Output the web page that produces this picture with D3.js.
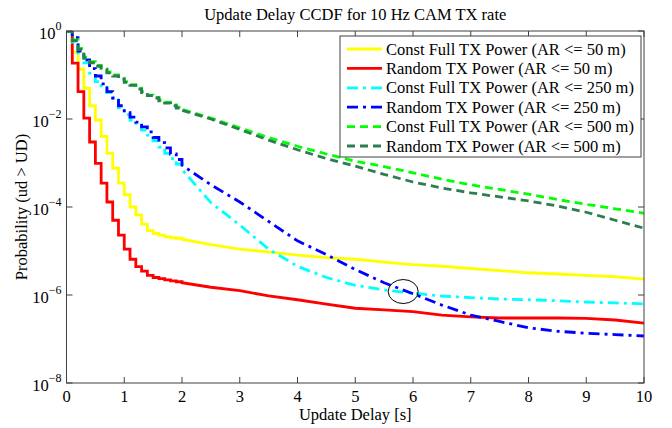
<!DOCTYPE html>
<html>
<head>
<meta charset="utf-8">
<script src="https://cdn.jsdelivr.net/npm/d3@7/dist/d3.min.js"></script>
<style>
  body { margin: 0; background: #fff; }
</style>
</head>
<body>
<div id="chart"></div>
<script>
// time grid (s): 0.1 s steps up to 2 s, then every 0.5 s
var times = [0, 0.1, 0.2, 0.3, 0.4, 0.5, 0.6, 0.7, 0.8, 0.9, 1.0, 1.1, 1.2, 1.3, 1.4, 1.5, 1.6, 1.7, 1.8, 1.9, 2.0,
             2.5, 3, 3.5, 4, 4.5, 5, 5.5, 6, 6.5, 7, 7.5, 8, 8.5, 9, 9.5, 10];

var constAR50 = [1, 0.33, 0.135, 5.0e-2, 2.0e-2, 9.5e-3, 4.0e-3, 1.66e-3, 7.6e-4, 3.5e-4, 1.9e-4, 1.0e-4, 6.6e-5, 4.1e-5, 2.9e-5, 2.5e-5, 2.3e-5, 2.1e-5, 2.0e-5, 1.95e-5, 1.85e-5,
                 1.4e-5, 1.1e-5, 9.5e-6, 8.1e-6, 7.1e-6, 6.5e-6, 5.6e-6, 4.9e-6, 4.5e-6, 4.0e-6, 3.6e-6, 3.2e-6, 3.0e-6, 2.8e-6, 2.6e-6, 2.3e-6];
var randAR50 = [1, 0.186, 4.2e-2, 1.05e-2, 3.0e-3, 9.8e-4, 3.5e-4, 1.3e-4, 5.0e-5, 2.3e-5, 1.1e-5, 6.5e-6, 4.4e-6, 3.5e-6, 2.8e-6, 2.5e-6, 2.35e-6, 2.2e-6, 2.1e-6, 2.0e-6, 1.9e-6,
                1.5e-6, 1.26e-6, 9.5e-7, 7.8e-7, 6.2e-7, 5.0e-7, 4.6e-7, 4.2e-7, 3.5e-7, 3.2e-7, 3.0e-7, 3.0e-7, 3.0e-7, 2.95e-7, 2.7e-7, 2.3e-7];
var constAR250 = [1, 0.56, 0.32, 0.19, 0.11, 7.1e-2, 5.2e-2, 4.0e-2, 2.7e-2, 1.8e-2, 1.26e-2, 9.5e-3, 7.4e-3, 5.6e-3, 4.3e-3, 3.2e-3, 2.3e-3, 1.66e-3, 1.26e-3, 9.5e-4, 7.1e-4,
                  1.26e-4, 3.9e-5, 1.1e-5, 4.5e-6, 2.5e-6, 1.66e-6, 1.3e-6, 1.1e-6, 9.5e-7, 8.7e-7, 8.1e-7, 7.8e-7, 7.4e-7, 6.9e-7, 6.6e-7, 6.3e-7];
var randAR250 = [1, 0.71, 0.35, 0.22, 0.14, 9.5e-2, 6.3e-2, 4.2e-2, 3.0e-2, 2.0e-2, 1.4e-2, 1.1e-2, 8.5e-3, 6.6e-3, 5.1e-3, 3.8e-3, 2.9e-3, 2.2e-3, 1.6e-3, 1.2e-3, 8.9e-4,
                 3.2e-4, 1.3e-4, 4.7e-5, 1.7e-5, 8.3e-6, 3.8e-6, 1.9e-6, 1.07e-6, 5.9e-7, 3.5e-7, 2.5e-7, 1.8e-7, 1.5e-7, 1.35e-7, 1.26e-7, 1.17e-7];
var constAR500 = [1, 0.63, 0.40, 0.25, 0.20, 0.166, 0.138, 0.117, 0.10, 8.5e-2, 7.1e-2, 6.0e-2, 5.0e-2, 4.2e-2, 3.5e-2, 3.1e-2, 2.7e-2, 2.4e-2, 2.1e-2, 1.86e-2, 1.66e-2,
                  1.05e-2, 6.3e-3, 3.8e-3, 2.4e-3, 1.6e-3, 1.1e-3, 8.3e-4, 6.0e-4, 4.3e-4, 3.2e-4, 2.5e-4, 1.95e-4, 1.48e-4, 1.15e-4, 9.1e-5, 7.2e-5];
var randAR500 = [1, 0.60, 0.38, 0.24, 0.19, 0.158, 0.132, 0.112, 9.5e-2, 8.1e-2, 6.8e-2, 5.8e-2, 4.8e-2, 4.0e-2, 3.4e-2, 3.0e-2, 2.6e-2, 2.3e-2, 2.0e-2, 1.78e-2, 1.58e-2,
                 1.0e-2, 5.8e-3, 3.3e-3, 2.0e-3, 1.26e-3, 8.5e-4, 5.5e-4, 3.7e-4, 2.7e-4, 2.1e-4, 1.7e-4, 1.38e-4, 1.05e-4, 7.6e-5, 5.0e-5, 3.3e-5];

var labels = ['Const Full TX Power (AR <= 50 m)', 'Random TX Power (AR <= 50 m)',
              'Const Full TX Power (AR <= 250 m)', 'Random TX Power (AR <= 250 m)',
              'Const Full TX Power (AR <= 500 m)', 'Random TX Power (AR <= 500 m)'];
var xTicks = [0, 1, 2, 3, 4, 5, 6, 7, 8, 9, 10];
var yExps = [0, -2, -4, -6, -8];
// circled crossing point
var markT = 5.83, markP = 1.2e-6;

var series = [
  {name: labels[0], values: constAR50,  color: '#ffff00', dash: null},
  {name: labels[1], values: randAR50,   color: '#ff0000', dash: null},
  {name: labels[2], values: constAR250, color: '#00ffff', dash: '11,5,3,5'},
  {name: labels[3], values: randAR250,  color: '#0000ff', dash: '11,5,3,5'},
  {name: labels[4], values: constAR500, color: '#00ff00', dash: '8,5'},
  {name: labels[5], values: randAR500,  color: '#2e7d52', dash: '8,5'}
];

var FONT = '"Liberation Serif", "Times New Roman", Times, "DejaVu Serif", serif';

var margin = {top: 31, right: 28, bottom: 45, left: 66.5},
    width = 672 - margin.left - margin.right,
    height = 428 - margin.top - margin.bottom;

var x = d3.scaleLinear().domain([0, 10]).range([0, width]);
var y = d3.scaleLog().domain([1e-8, 1]).range([height, 0]);

var svg = d3.select('#chart').append('svg')
    .attr('width', 672).attr('height', 428)
    .attr('font-family', FONT)
    .style('font-family', FONT);
svg.append('rect').attr('width', 672).attr('height', 428).attr('fill', '#fff');

var graph = svg.append('g')
    .attr('transform', 'translate(' + margin.left + ',' + margin.top + ')');

graph.append('clipPath').attr('id', 'clip')
  .append('rect').attr('width', width).attr('height', height);

// stairs up to 2 s, straight segments after that
function stairs(vals) {
  var out = [];
  vals.forEach(function(v, i) {
    if (i > 0 && times[i] <= 2.0) out.push([times[i], vals[i - 1]]);
    out.push([times[i], v]);
  });
  return out;
}

var line = d3.line()
    .x(function(d) { return x(d[0]); })
    .y(function(d) { return y(d[1]); });

graph.append('g').attr('clip-path', 'url(#clip)')
  .selectAll('path')
  .data(series)
  .enter().append('path')
    .attr('d', function(d) { return line(stairs(d.values)); })
    .attr('fill', 'none')
    .attr('stroke', function(d) { return d.color; })
    .attr('stroke-width', 2.8)
    .attr('stroke-dasharray', function(d) { return d.dash; });

// annotation ellipse
graph.append('ellipse')
    .attr('cx', x(markT)).attr('cy', y(markP))
    .attr('rx', 15).attr('ry', 12)
    .attr('fill', 'none').attr('stroke', '#000').attr('stroke-width', 1);

// box + inward ticks
var axisColor = '#404040', tickLen = 6;
graph.append('rect')
    .attr('width', width).attr('height', height)
    .attr('fill', 'none').attr('stroke', axisColor).attr('stroke-width', 1);

xTicks.forEach(function(t) {
  graph.append('line').attr('x1', x(t)).attr('x2', x(t)).attr('y1', height).attr('y2', height - tickLen).attr('stroke', axisColor);
  graph.append('line').attr('x1', x(t)).attr('x2', x(t)).attr('y1', 0).attr('y2', tickLen).attr('stroke', axisColor);
  graph.append('text')
      .attr('x', x(t)).attr('y', height + 19)
      .attr('text-anchor', 'middle')
      .style('font-size', '16.5px')
      .text(t);
});

yExps.forEach(function(e) {
  var yy = y(Math.pow(10, e));
  graph.append('line').attr('x1', 0).attr('x2', tickLen).attr('y1', yy).attr('y2', yy).attr('stroke', axisColor);
  graph.append('line').attr('x1', width).attr('x2', width - tickLen).attr('y1', yy).attr('y2', yy).attr('stroke', axisColor);
  var lab = graph.append('text')
      .attr('x', -5).attr('y', yy + 8)
      .attr('text-anchor', 'end')
      .style('font-size', '16.5px');
  lab.append('tspan').text('10');
  lab.append('tspan').attr('dy', -9).style('font-size', '12px').text(e === 0 ? '0' : '\u2212' + (-e));
});

// title and axis labels
svg.append('text')
    .attr('x', margin.left + width / 2).attr('y', 20)
    .attr('text-anchor', 'middle')
    .style('font-size', '16.5px')
    .text('Update Delay CCDF for 10 Hz CAM TX rate');

svg.append('text')
    .attr('x', margin.left + width / 2).attr('y', 420)
    .attr('text-anchor', 'middle')
    .style('font-size', '16.5px')
    .text('Update Delay [s]');

svg.append('text')
    .attr('transform', 'translate(27,' + (margin.top + height / 2) + ') rotate(-90)')
    .attr('text-anchor', 'middle')
    .style('font-size', '16.5px')
    .text('Probability (ud > UD)');

// legend
var legend = svg.append('g').attr('transform', 'translate(340,36)');
legend.append('rect')
    .attr('width', 301).attr('height', 121)
    .attr('fill', '#fff').attr('stroke', axisColor).attr('stroke-width', 1);

var rows = legend.selectAll('g.row')
  .data(series)
  .enter().append('g')
    .attr('class', 'row')
    .attr('transform', function(d, i) { return 'translate(0,' + (13 + i * 19.4) + ')'; });

rows.append('line')
    .attr('x1', 7).attr('x2', 42)
    .attr('stroke', function(d) { return d.color; })
    .attr('stroke-width', 2.8)
    .attr('stroke-dasharray', function(d) { return d.dash; });

rows.append('text')
    .attr('x', 46).attr('y', 5.5)
    .style('font-size', '16.5px')
    .text(function(d) { return d.name; });
</script>
</body>
</html>
